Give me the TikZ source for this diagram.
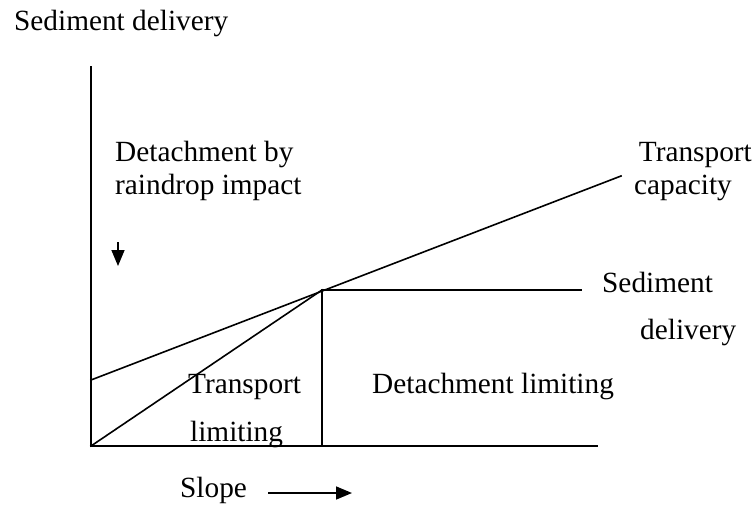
\documentclass[tikz,border=0pt]{standalone}
\usepackage{fontspec}
\setmainfont{Liberation Serif}
\usetikzlibrary{arrows.meta}
\begin{document}
\begin{tikzpicture}[x=1pt,y=-1pt,
  lbl/.style={inner sep=0pt, anchor=base west, font=\fontsize{29.3}{35}\selectfont},
  ln/.style={line width=1.6pt, line cap=rect},
  arr/.style={line width=1.6pt, -{Triangle[length=16pt,width=13pt]}}]
\useasboundingbox (0,0) rectangle (755,504);
% axes
\coordinate (ytop) at (91,67);
\coordinate (o) at (91,446);
\coordinate (xend) at (597,446);
\coordinate (c0) at (91,380);
\coordinate (p) at (322,290);
\coordinate (cend) at (621,176);
\coordinate (send) at (581,290);
\draw[ln] (ytop) -- (o) -- (xend);
\draw[ln] (c0) -- (cend);
\draw[ln] (o) -- (p);
\draw[ln] (p) -- (send);
\draw[ln] (p) -- (p |- o);
% arrows
\coordinate (a1s) at (118,242);
\coordinate (a1e) at (118,266);
\draw[arr] (a1s) -- (a1e);
\coordinate (a2s) at (268,493);
\coordinate (a2e) at (352,493);
\draw[arr] (a2s) -- (a2e);
% labels
\node[lbl] (title) at (14,30) {Sediment delivery};
\node[lbl] (det1) at (115,161) {Detachment by};
\node[lbl] (det2) at (115,194) {raindrop impact};
\node[lbl, anchor=base east] (tc1) at (752,161) {Transport};
\node[lbl] (tc2) at (634,194) {capacity};
\node[lbl] (sd1) at (602,292) {Sediment};
\node[lbl] (sd2) at (640,339) {delivery};
\node[lbl] (tl1) at (188,393) {Transport};
\node[lbl] (tl2) at (190,441) {limiting};
\node[lbl] (dl) at (372,393) {Detachment limiting};
\node[lbl] (slope) at (180,497) {Slope};
\end{tikzpicture}
\end{document}
